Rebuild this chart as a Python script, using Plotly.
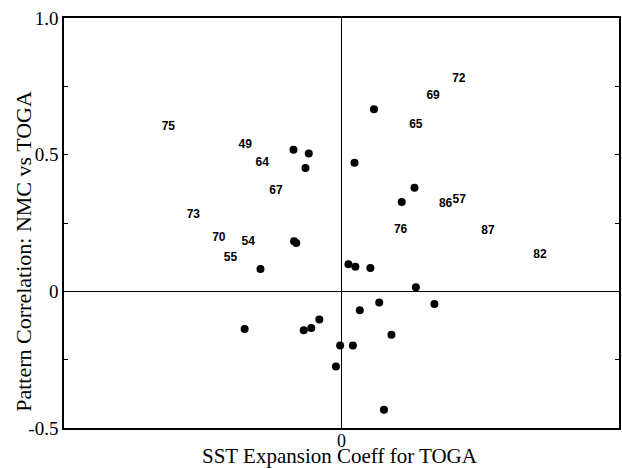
import plotly.graph_objects as go

# Dots (SST expansion coefficient, pattern correlation)
dot_x = [-0.173, -0.118, -0.130, 0.117, 0.047, 0.263, 0.217, -0.171, -0.163,
         -0.292, 0.025, 0.050, 0.104, 0.268, 0.136, 0.335, 0.066, -0.080,
         -0.109, -0.136, -0.349, 0.180, -0.005, 0.041, -0.020, 0.153]
dot_y = [0.518, 0.504, 0.451, 0.666, 0.470, 0.379, 0.327, 0.183, 0.177,
         0.082, 0.099, 0.090, 0.085, 0.015, -0.041, -0.046, -0.069, -0.103,
         -0.134, -0.142, -0.138, -0.159, -0.198, -0.198, -0.275, -0.433]

# Year labels
lab_text = ["75", "49", "64", "67", "73", "70", "54", "55",
            "72", "69", "65", "86", "57", "76", "87", "82"]
lab_x = [-0.624, -0.347, -0.286, -0.236, -0.534, -0.442, -0.336, -0.400,
         0.423, 0.330, 0.268, 0.375, 0.424, 0.213, 0.528, 0.715]
lab_y = [0.602, 0.537, 0.470, 0.366, 0.280, 0.195, 0.181, 0.122,
         0.776, 0.716, 0.609, 0.320, 0.334, 0.226, 0.221, 0.132]

y_tickvals = [-0.5, 0, 0.5, 1.0]
y_ticktext = ["-0.5", "0", "0.5", "1.0"]
x_tickval = 0
x_ticktext = "0"

x_title = "SST Expansion Coeff for TOGA"
y_title = "Pattern Correlation: NMC vs TOGA"

fig = go.Figure()
fig.add_trace(go.Scatter(
    x=dot_x, y=dot_y, mode="markers",
    marker=dict(color="black", size=8),
    hoverinfo="skip", showlegend=False))
fig.add_trace(go.Scatter(
    x=lab_x, y=lab_y, mode="text", text=lab_text,
    textfont=dict(family="Liberation Sans", size=12, color="black", weight="bold"),
    hoverinfo="skip", showlegend=False))

serif = "Liberation Serif"
fig.update_layout(
    width=622, height=468,
    margin=dict(l=64, r=1, t=18, b=40),
    paper_bgcolor="white", plot_bgcolor="white",
    font=dict(family=serif, color="black", size=19),
    xaxis=dict(
        range=[-1, 1], showgrid=False,
        zeroline=True, zerolinecolor="black", zerolinewidth=1,
        showline=True, linecolor="black", linewidth=1.5, mirror=True,
        showticklabels=False, ticks="",
    ),
    yaxis=dict(
        range=[-0.5, 1.0], showgrid=False,
        zeroline=True, zerolinecolor="black", zerolinewidth=1,
        showline=True, linecolor="black", linewidth=1.5, mirror="allticks",
        tickvals=y_tickvals, ticktext=y_ticktext,
        ticks="inside", ticklen=4, tickcolor="black",
        minor=dict(ticks="inside", dtick=0.25, ticklen=4, tickcolor="black"),
        ticklabelstandoff=0,
        tickfont=dict(family=serif, size=19, color="black"),
    ),
    annotations=[
        dict(text=x_ticktext, xref="x", yref="paper", x=x_tickval, y=-0.004,
             xanchor="center", yanchor="top", showarrow=False,
             font=dict(family=serif, size=18, color="black"), borderpad=0),
        dict(text=x_title, xref="paper", yref="paper", x=0.498, y=-0.1,
             xanchor="center", yanchor="bottom", showarrow=False,
             font=dict(family=serif, size=21, color="black"), borderpad=0),
        dict(text=y_title, xref="paper", yref="paper", x=-0.072, y=0.43,
             xanchor="center", yanchor="middle", showarrow=False, textangle=-90,
             font=dict(family=serif, size=22, color="black")),
    ],
)

fig.write_html("out.html")
